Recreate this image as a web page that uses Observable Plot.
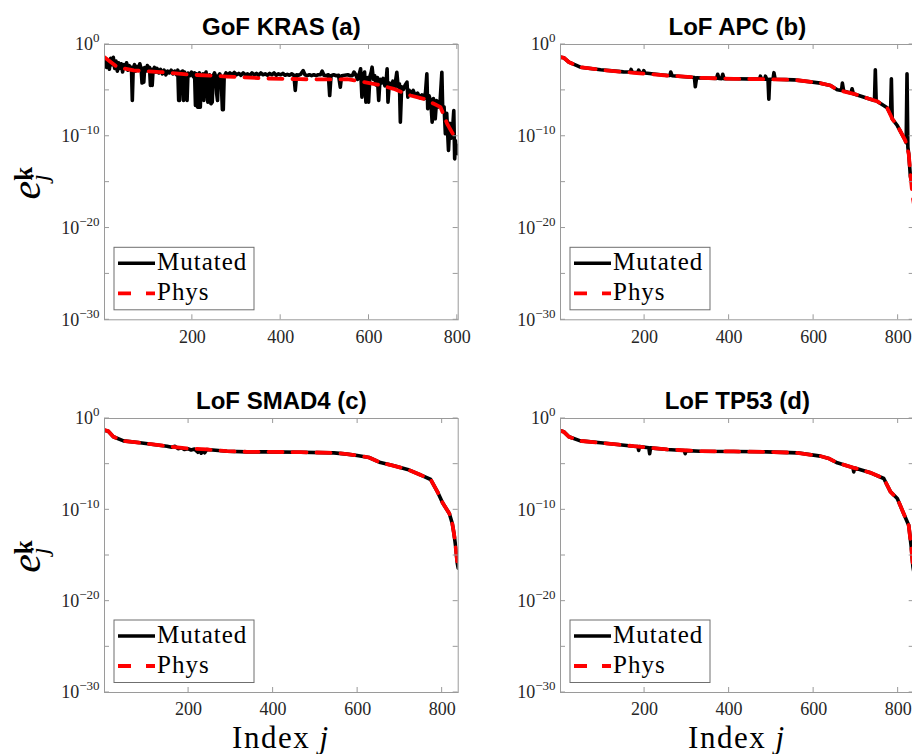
<!DOCTYPE html>
<html><head><meta charset="utf-8">
<script src="https://cdn.jsdelivr.net/npm/d3@7"></script>
<script src="https://cdn.jsdelivr.net/npm/@observablehq/plot@0.6"></script>
<style>
html,body{margin:0;padding:0;background:#fff;overflow:hidden}
#fig{position:relative;width:912px;height:754px;overflow:hidden;background:#fff}
#fig svg{position:absolute;overflow:visible}
</style></head><body><div id="fig"></div>
<script>
// ---- tick values and labels ----
const xTicks = [200, 400, 600, 800];
const yTicks = [1e0, 1e-10, 1e-20, 1e-30];
const yMinorTicks = [1e0, 1e-5, 1e-10, 1e-15, 1e-20, 1e-25, 1e-30];
const seriesNames = ["Mutated", "Phys"];
const titles = ["GoF KRAS (a)", "LoF APC (b)", "LoF SMAD4 (c)", "LoF TP53 (d)"];
const nIndex = [802, 838, 838, 838];

// ---- data: [index j, log10(e_j^k)] ----
const physA = [[1,-1.38],[30,-2.47],[67,-2.83],[128,-3.0],[188,-3.27],[279,-3.49],[369,-3.7],[445,-3.78],[520,-3.81],[551,-3.78],[581,-4.03],[619,-4.36],[656,-4.83],[694,-5.56],[724,-5.92],[747,-6.46],[762,-6.83],[777,-8.64],[792,-9.92],[802,-10.4]];
const mutA = [[1,-2.3],[3,-1.6],[6,-2.5],[9,-1.9],[12,-2.7],[15,-1.5],[18,-2.2],[21,-1.4],[24,-2.6],[27,-1.8],[30,-2.9],[33,-2.0],[36,-2.6],[39,-2.1],[42,-3.0],[45,-2.2],[48,-2.5],[51,-2.0],[54,-2.8],[57,-2.3],[60,-2.6],[62,-2.5],[64,-6.1],[66,-2.6],[69,-2.2],[72,-2.9],[75,-2.4],[78,-2.6],[81,-2.1],[84,-2.7],[86,-4.2],[88,-2.6],[90,-4.1],[92,-2.5],[95,-2.9],[98,-2.3],[101,-2.8],[103,-2.5],[105,-4.47],[107,-2.7],[109,-4.47],[111,-2.8],[114,-2.5],[117,-3.0],[120,-2.6],[124,-3.1],[128,-2.7],[132,-3.2],[136,-2.8],[140,-3.3],[144,-2.9],[148,-3.1],[152,-2.8],[156,-3.2],[160,-2.9],[164,-3.3],[167,-2.8],[169,-6.1],[171,-6.1],[173,-3.0],[176,-3.4],[178,-2.9],[180,-6.1],[182,-3.0],[185,-3.5],[188,-6.1],[190,-3.1],[194,-3.4],[198,-3.0],[202,-3.5],[205,-3.1],[207,-6.65],[209,-3.2],[212,-6.83],[214,-3.3],[216,-3.1],[218,-6.83],[220,-3.4],[222,-5.0],[224,-3.2],[226,-6.1],[228,-3.4],[231,-3.0],[235,-6.28],[237,-6.1],[239,-3.3],[242,-6.46],[245,-6.28],[247,-3.4],[250,-3.1],[253,-3.5],[255,-5.37],[257,-6.1],[259,-3.4],[262,-3.2],[265,-3.6],[268,-7.1],[270,-7.1],[272,-3.5],[276,-3.1],[280,-3.3],[285,-3.1],[290,-3.3],[295,-3.05],[300,-3.3],[305,-3.15],[310,-3.35],[315,-3.1],[320,-3.3],[325,-3.2],[330,-3.4],[335,-3.1],[340,-3.3],[345,-3.15],[350,-3.35],[355,-3.1],[360,-3.3],[365,-3.2],[370,-3.35],[375,-3.15],[380,-3.3],[385,-3.1],[390,-3.35],[395,-3.2],[400,-3.3],[405,-3.15],[410,-3.35],[415,-3.25],[420,-3.35],[425,-3.2],[430,-3.35],[433,-5.0],[436,-3.3],[440,-3.35],[445,-3.25],[451,-2.85],[455,-3.3],[460,-3.4],[465,-3.3],[470,-3.4],[475,-3.3],[480,-3.4],[485,-3.3],[490,-3.3],[494,-2.9],[498,-3.35],[503,-3.4],[508,-3.3],[511,-5.56],[514,-3.4],[520,-3.3],[526,-3.4],[531,-3.35],[535,-4.65],[538,-3.4],[545,-3.35],[552,-3.3],[558,-3.4],[562,-3.4],[566,-3.0],[570,-3.3],[574,-3.8],[578,-3.2],[581,-2.65],[584,-5.74],[587,-3.4],[590,-3.0],[593,-6.28],[596,-3.6],[599,-6.28],[602,-3.5],[605,-3.0],[607,-2.47],[610,-3.8],[613,-3.4],[616,-4.4],[619,-3.6],[622,-6.1],[625,-3.8],[628,-4.2],[632,-3.7],[636,-4.5],[639,-3.9],[641,-2.65],[643,-6.28],[646,-4.2],[650,-4.6],[654,-4.0],[658,-4.7],[663,-3.02],[666,-4.6],[669,-4.3],[671,-8.46],[674,-4.6],[678,-4.9],[682,-4.4],[686,-4.1],[688,-5.74],[691,-5.0],[695,-5.4],[700,-5.0],[705,-5.6],[710,-5.3],[715,-5.8],[720,-5.5],[725,-5.9],[728,-5.2],[731,-3.2],[733,-7.0],[736,-5.6],[740,-6.2],[743,-8.46],[746,-5.9],[750,-8.1],[753,-6.1],[757,-6.8],[761,-6.2],[765,-3.02],[767,-7.2],[770,-6.8],[773,-9.73],[776,-7.5],[780,-11.55],[783,-8.6],[786,-10.2],[789,-9.4],[792,-7.2],[794,-12.46],[796,-10.5],[798,-11.8],[800,-11.0],[802,-11.9]];

const physB = [[1,-1.38],[9,-1.45],[21,-1.93],[48,-2.47],[96,-2.76],[174,-3.09],[253,-3.38],[332,-3.63],[411,-3.74],[490,-3.78],[553,-3.85],[616,-4.21],[640,-4.47],[656,-4.94],[695,-5.37],[727,-5.85],[750,-6.18],[774,-6.9],[786,-8.1],[798,-8.83],[817,-10.46],[825,-11.9],[829,-14.1],[834,-16.45],[838,-17.6]];
const mutB = [[1,-1.38],[9,-1.45],[21,-1.93],[48,-2.47],[96,-2.76],[150,-2.98],[166,-3.0],[168,-2.72],[171,-3.02],[184,-3.05],[186,-2.8],[189,-3.06],[196,-3.08],[198,-2.85],[201,-3.1],[253,-3.38],[260,-3.37],[262,-3.0],[265,-3.4],[318,-3.6],[320,-4.6],[323,-3.62],[370,-3.7],[373,-3.25],[376,-3.71],[382,-3.72],[385,-3.25],[388,-3.73],[411,-3.74],[472,-3.77],[474,-3.45],[477,-3.77],[484,-3.78],[486,-3.45],[489,-3.78],[492,-3.78],[494,-5.95],[496,-3.78],[504,-3.78],[506,-3.07],[509,-3.79],[553,-3.85],[616,-4.21],[640,-4.47],[656,-4.94],[666,-5.0],[668,-4.21],[671,-5.05],[688,-5.3],[691,-4.83],[694,-5.36],[727,-5.85],[744,-6.1],[746,-2.76],[748,-6.14],[750,-6.18],[774,-6.9],[782,-7.6],[784,-3.74],[786,-8.1],[798,-8.83],[817,-10.46],[819,-10.7],[821,-3.2],[823,-11.2],[825,-11.9],[829,-14.4],[832,-15.0],[838,-16.0]];

const physC = [[1,-1.28],[10,-1.39],[22,-2.0],[46,-2.45],[85,-2.66],[149,-3.03],[196,-3.28],[243,-3.39],[291,-3.58],[338,-3.65],[386,-3.65],[465,-3.69],[544,-3.76],[575,-3.9],[599,-4.05],[627,-4.27],[654,-4.82],[686,-5.18],[718,-5.58],[750,-6.2],[773,-6.68],[789,-8.03],[801,-9.23],[817,-10.4],[824,-11.5],[828,-12.6],[832,-14.05],[836,-15.9],[838,-16.4]];
const mutC = [[1,-1.28],[10,-1.39],[22,-2.0],[46,-2.45],[85,-2.66],[149,-3.03],[160,-3.15],[168,-3.05],[175,-3.3],[183,-3.2],[190,-3.4],[198,-3.3],[206,-3.45],[214,-3.35],[222,-3.7],[226,-3.5],[230,-3.8],[234,-3.55],[238,-3.75],[243,-3.39],[291,-3.58],[338,-3.65],[386,-3.65],[465,-3.69],[544,-3.76],[575,-3.9],[599,-4.05],[627,-4.27],[654,-4.82],[686,-5.18],[718,-5.58],[750,-6.2],[773,-6.68],[789,-8.03],[801,-9.23],[817,-10.4],[824,-11.5],[828,-12.6],[832,-14.05],[836,-15.9],[838,-16.4]];

const physD = [[1,-1.35],[9,-1.46],[21,-2.0],[48,-2.45],[96,-2.66],[174,-3.03],[253,-3.39],[332,-3.58],[411,-3.61],[490,-3.65],[561,-3.76],[616,-4.12],[636,-4.38],[656,-4.85],[695,-5.4],[735,-5.95],[766,-6.57],[782,-8.03],[798,-8.76],[813,-10.4],[825,-11.68],[831,-14.05],[835,-16.24],[838,-17.0]];
const mutD = [[1,-1.35],[9,-1.46],[21,-2.0],[48,-2.45],[96,-2.66],[174,-3.03],[184,-3.06],[186,-3.5],[188,-3.08],[210,-3.2],[212,-3.85],[214,-3.22],[253,-3.39],[294,-3.5],[296,-3.85],[298,-3.52],[332,-3.58],[411,-3.61],[490,-3.65],[561,-3.76],[616,-4.12],[636,-4.38],[656,-4.85],[693,-5.38],[695,-5.85],[697,-5.42],[735,-5.95],[766,-6.57],[782,-8.03],[798,-8.76],[813,-10.4],[825,-11.68],[831,-14.05],[835,-16.24],[838,-17.0]];

const rows = arr => arr.map(([j, p]) => ({j, e: Math.pow(10, p)}));

const fig = document.getElementById("fig");
const ML = 104, MT = 44, FW = 353.7, MR = 12.3, MB = 62;
const serif = "Liberation Serif";
const sans = "Liberation Sans";

function panel(k, frameLeft, frameTop, FH, phys, mut, showY, showX) {
  const plot = Plot.plot({
    width: ML + FW + MR, height: MT + FH + MB,
    marginLeft: ML, marginRight: MR, marginTop: MT, marginBottom: MB,
    style: "background: transparent; overflow: visible;",
    x: {domain: [1, nIndex[k]], label: null},
    y: {type: "log", domain: [1e-30, 1], label: null},
    marks: [
      Plot.axisX({ticks: xTicks, tickSize: 0, tickPadding: 10, label: null,
        fontFamily: serif, fontSize: 18, fill: "#262626"}),
      Plot.axisY({ticks: yTicks, tickSize: 0, tickPadding: 5, label: null,
        fontFamily: serif, fontSize: 18, fill: "#262626",
        tickFormat: d => "10^" + Math.round(Math.log10(d))}),
      Plot.line(rows(mut), {x: "j", y: "e", stroke: "#000", strokeWidth: 3.6, strokeLinejoin: "round", clip: true}),
      Plot.line(rows(phys), {x: "j", y: "e", stroke: "#ff0000", strokeWidth: 3.8, strokeDasharray: "14,10", clip: true}),
      Plot.frame({stroke: "#9a9a9a"}),
      Plot.text([titles[k]], {text: d => d, frameAnchor: "top", lineAnchor: "bottom", dy: -9.5,
        fontFamily: sans, fontWeight: "bold", fontSize: 24, fill: "#000"})
    ]
  });
  plot.style.left = (frameLeft - ML) + "px";
  plot.style.top = (frameTop - MT) + "px";
  fig.appendChild(plot);
  const svg = d3.select(plot);

  // superscript exponents on y tick labels
  svg.selectAll('[aria-label="y-axis tick label"] text').each(function() {
    const t = this.textContent;
    if (t.indexOf("^") < 0) return;
    const exp = t.split("^")[1].replace("-", "\u2212");
    const s = d3.select(this);
    s.text(null);
    s.append("tspan").text("10");
    s.append("tspan").attr("font-size", 13).attr("dy", "-0.62em").text(exp);
  });

  // inward ticks on all four sides
  const sx = plot.scale("x"), sy = plot.scale("y");
  const g = svg.append("g").attr("stroke", "#9a9a9a").attr("stroke-width", 1);
  for (const t of xTicks) {
    const x = sx.apply(t);
    g.append("line").attr("x1", x).attr("x2", x).attr("y1", MT).attr("y2", MT + 5);
    g.append("line").attr("x1", x).attr("x2", x).attr("y1", MT + FH - 5).attr("y2", MT + FH);
  }
  for (const t of yMinorTicks) {
    const y = sy.apply(t);
    g.append("line").attr("x1", ML).attr("x2", ML + 5).attr("y1", y).attr("y2", y);
    g.append("line").attr("x1", ML + FW - 5).attr("x2", ML + FW).attr("y1", y).attr("y2", y);
  }

  // legend
  const bx = ML + 10, by = MT + FH - 72;
  const lg = svg.append("g").attr("text-anchor", "start");
  lg.append("rect").attr("x", bx).attr("y", by).attr("width", 140).attr("height", 62.5)
    .attr("fill", "#fff").attr("stroke", "#6f6f6f").attr("stroke-width", 1);
  lg.append("line").attr("x1", bx + 4).attr("x2", bx + 41).attr("y1", by + 16).attr("y2", by + 16)
    .attr("stroke", "#000").attr("stroke-width", 3.6);
  lg.append("line").attr("x1", bx + 4).attr("x2", bx + 41).attr("y1", by + 46).attr("y2", by + 46)
    .attr("stroke", "#ff0000").attr("stroke-width", 3.8).attr("stroke-dasharray", "13,15");
  lg.append("text").attr("x", bx + 43).attr("y", by + 23).attr("font-family", serif).attr("font-size", 25)
    .attr("letter-spacing", 1).attr("fill", "#000").text(seriesNames[0]);
  lg.append("text").attr("x", bx + 43).attr("y", by + 52.5).attr("font-family", serif).attr("font-size", 25)
    .attr("letter-spacing", 1).attr("fill", "#000").text(seriesNames[1]);

  if (showY) {
    const cy = MT + FH / 2 + 1.5, bxl = 40;
    const t = svg.append("text").attr("x", bxl).attr("y", cy).attr("text-anchor", "middle")
      .attr("transform", `rotate(-90,${bxl},${cy})`).attr("font-family", serif).attr("fill", "#000");
    t.append("tspan").attr("font-size", 42).attr("font-style", "italic").text("e");
    t.append("tspan").attr("font-size", 25).attr("font-weight", "bold").attr("dy", -8).text("k");
    t.append("tspan").attr("font-size", 25).attr("font-style", "italic").attr("dx", -14).attr("dy", 16).text("j");
  }
  if (showX) {
    const t = svg.append("text").attr("x", ML + FW / 2).attr("y", MT + FH + 56).attr("text-anchor", "middle")
      .attr("font-family", serif).attr("font-size", 31).attr("letter-spacing", 1.5).attr("fill", "#000");
    t.append("tspan").text("Index ");
    t.append("tspan").attr("font-style", "italic").text("j");
  }
}

panel(0, 104, 44, 275.3, physA, mutA, true, false);
panel(1, 560, 44, 275.3, physB, mutB, false, false);
panel(2, 104, 418.3, 274, physC, mutC, true, true);
panel(3, 560, 418.3, 274, physD, mutD, false, true);
</script>
</body></html>
